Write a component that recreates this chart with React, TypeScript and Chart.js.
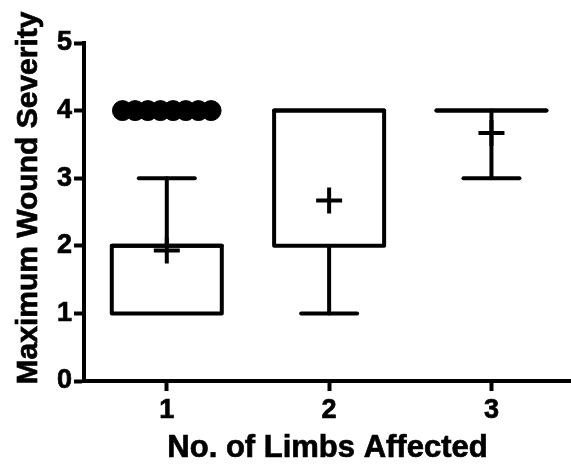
import { useEffect, useRef } from 'react';
import { Chart, registerables } from 'chart.js';

Chart.register(...registerables);

// ---- data ----
const categories = [1, 2, 3];
const xTickValues = [1, 2, 3];
const yTickValues = [0, 1, 2, 3, 4, 5];
const whiskerLow = [1, 1, 3];
const q1 = [1, 2, 4];
const median = [2, 4, 4];
const q3 = [2, 4, 4];
const whiskerHigh = [3, 4, 4];
const means = [1.93, 2.67, 3.67];
const outliers1 = [4, 4, 4, 4, 4, 4, 4, 4];
const outliers2: number[] = [];
const outliers3: number[] = [];
const xTitle = 'No. of Limbs Affected';
const yTitle = 'Maximum Wound Severity';

// ---- styles ----
const FONT = "'Liberation Sans', Arial, Helvetica, sans-serif";
const LINE_W = 4;
const BOX_HALF_PX = 55;
const CAP_HALF_PX = 28;
const DOT_SPREAD = 0.078;

const outlierGroups = [outliers1, outliers2, outliers3];
const outlierPoints = outlierGroups.flatMap((grp, gi) =>
  grp.map((v, i) => ({ x: categories[gi] + (i - (grp.length - 1) / 2) * DOT_SPREAD, y: v }))
);
const meanPoints = categories.map((c, i) => ({ x: c, y: means[i] }));

const boxPlugin = {
  id: 'boxes',
  beforeDatasetsDraw(chart: any) {
    const { ctx, scales } = chart;
    const x = scales.x;
    const y = scales.y;
    ctx.save();
    ctx.strokeStyle = '#000';
    ctx.lineWidth = LINE_W;
    ctx.lineCap = 'round';
    ctx.lineJoin = 'round';
    const line = (x1: number, y1: number, x2: number, y2: number) => {
      ctx.beginPath();
      ctx.moveTo(x1, y1);
      ctx.lineTo(x2, y2);
      ctx.stroke();
    };
    categories.forEach((c, i) => {
      const cx = x.getPixelForValue(c);
      const yQ1 = y.getPixelForValue(q1[i]);
      const yQ3 = y.getPixelForValue(q3[i]);
      const yMed = y.getPixelForValue(median[i]);
      const yLo = y.getPixelForValue(whiskerLow[i]);
      const yHi = y.getPixelForValue(whiskerHigh[i]);
      if (whiskerHigh[i] > q3[i]) {
        line(cx, yQ3, cx, yHi);
        line(cx - CAP_HALF_PX, yHi, cx + CAP_HALF_PX, yHi);
      }
      if (whiskerLow[i] < q1[i]) {
        line(cx, yQ1, cx, yLo);
        line(cx - CAP_HALF_PX, yLo, cx + CAP_HALF_PX, yLo);
      }
      ctx.fillStyle = '#fff';
      ctx.fillRect(cx - BOX_HALF_PX, yQ3, BOX_HALF_PX * 2, yQ1 - yQ3);
      ctx.beginPath();
      ctx.rect(cx - BOX_HALF_PX, yQ3, BOX_HALF_PX * 2, yQ1 - yQ3);
      ctx.stroke();
      line(cx - BOX_HALF_PX, yMed, cx + BOX_HALF_PX, yMed);
    });
    ctx.restore();
  },
};

const titlePlugin = {
  id: 'axisTitles',
  afterDraw(chart: any) {
    const { ctx, chartArea } = chart;
    ctx.save();
    ctx.fillStyle = '#000';
    ctx.strokeStyle = '#000';
    ctx.lineWidth = 0.7;
    ctx.textAlign = 'center';
    ctx.textBaseline = 'alphabetic';
    ctx.font = `bold 31px ${FONT}`;
    const xc = (chartArea.left + chartArea.right) / 2;
    ctx.fillText(xTitle, xc, 457);
    ctx.strokeText(xTitle, xc, 457);
    ctx.font = `bold 30px ${FONT}`;
    ctx.translate(37, 198);
    ctx.rotate(-Math.PI / 2);
    ctx.fillText(yTitle, 0, 0);
    ctx.strokeText(yTitle, 0, 0);
    ctx.restore();
  },
};

export default function App() {
  const ref = useRef<HTMLCanvasElement>(null);
  useEffect(() => {
    if (!ref.current) return;
    const tickFont = { family: FONT, size: 27, weight: 'bold' as const };
    const chart = new Chart(ref.current, {
      type: 'scatter',
      data: {
        datasets: [
          {
            label: 'Outliers',
            data: outlierPoints,
            pointStyle: 'circle',
            pointRadius: 10,
            pointBackgroundColor: '#000',
            pointBorderColor: '#000',
            pointBorderWidth: 1,
          },
          {
            label: 'Mean',
            data: meanPoints,
            pointStyle: 'cross',
            pointRadius: 13,
            pointBorderColor: '#000',
            pointBorderWidth: LINE_W,
          },
        ],
      },
      options: {
        animation: false,
        responsive: false,
        devicePixelRatio: 1,
        layout: { autoPadding: false, padding: { top: 43, left: 0, right: 0, bottom: 0 } },
        plugins: { legend: { display: false }, tooltip: { enabled: false } },
        scales: {
          x: {
            type: 'linear',
            min: 0.49,
            max: 3.49,
            afterBuildTicks: (s: any) => {
              s.ticks = xTickValues.map((v) => ({ value: v }));
            },
            afterFit: (s: any) => {
              s.height = 83;
            },
            border: { display: true, color: '#000', width: LINE_W },
            grid: { display: true, drawOnChartArea: false, drawTicks: true, tickLength: 10, tickWidth: LINE_W, color: '#000' },
            ticks: { font: tickFont, color: '#000', padding: 3, maxRotation: 0, textStrokeColor: '#000', textStrokeWidth: 0.7 },
          },
          y: {
            type: 'linear',
            min: 0,
            max: 5,
            afterBuildTicks: (s: any) => {
              s.ticks = yTickValues.map((v) => ({ value: v }));
            },
            afterFit: (s: any) => {
              s.width = 84;
            },
            border: { display: true, color: '#000', width: LINE_W },
            grid: { display: true, drawOnChartArea: false, drawTicks: true, tickLength: 10, tickWidth: LINE_W, color: '#000' },
            ticks: { font: tickFont, color: '#000', padding: 2, textStrokeColor: '#000', textStrokeWidth: 0.7 },
          },
        },
      },
      plugins: [boxPlugin, titlePlugin],
    });
    return () => chart.destroy();
  }, []);
  return (
    <div style={{ position: 'fixed', left: 0, top: 0, width: 571, height: 464, background: '#fff' }}>
      <canvas ref={ref} width={571} height={464} />
    </div>
  );
}
